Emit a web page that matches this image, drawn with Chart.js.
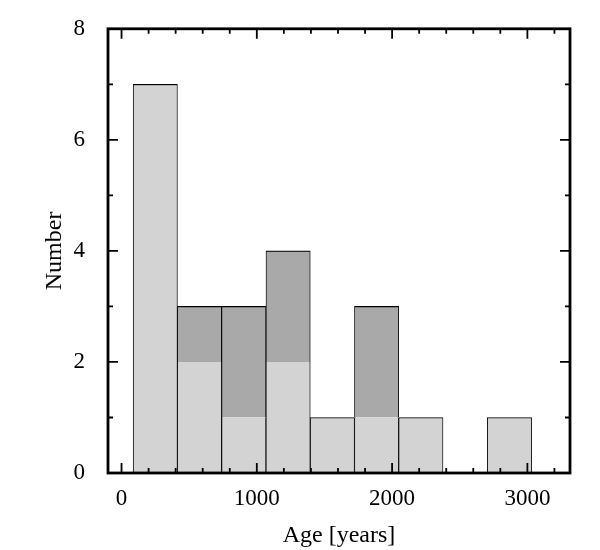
<!DOCTYPE html>
<html lang="en">

<head>
  <meta charset="UTF-8" />
  <title>Age histogram</title>
  <script src="https://cdn.jsdelivr.net/npm/chart.js"></script>
  <style>
    html,
    body {
      margin: 0;
      background: #ffffff;
    }

    canvas {
      display: block;
    }
  </style>
</head>

<body>
  <canvas id="histograma" width="600" height="550"></canvas>

  <script>
    // bin edges in years
    const binEdges = [86, 413, 740, 1068, 1395, 1722, 2049, 2376, 2704, 3031];
    // lower (light) and upper (dark) part of each bin
    const lightCounts = [7, 2, 1, 2, 1, 1, 1, 0, 1];
    const darkCounts = [0, 1, 2, 2, 0, 2, 0, 0, 0];

    const xTickLabels = ['0', '1000', '2000', '3000'];
    const yTickLabels = ['0', '2', '4', '6', '8'];
    const xMinorStep = 200;

    const binCenters = binEdges.slice(0, -1).map((e, i) => (e + binEdges[i + 1]) / 2);

    Chart.defaults.font.family = '"Liberation Serif", "Times New Roman", serif';
    Chart.defaults.font.size = 23;
    Chart.defaults.color = '#000';

    // frame with inward ticks on all four sides
    const moldura = {
      id: 'moldura',
      afterDraw(chart) {
        const { ctx, chartArea: a, scales: { x, y } } = chart;
        ctx.save();
        ctx.strokeStyle = '#000';
        ctx.lineWidth = 1.8;
        x.ticks.forEach(t => {
          const px = x.getPixelForValue(t.value);
          const len = xTickLabels.includes(String(t.value)) ? 10 : 5;
          ctx.beginPath();
          ctx.moveTo(px, a.bottom); ctx.lineTo(px, a.bottom - len);
          ctx.moveTo(px, a.top); ctx.lineTo(px, a.top + len);
          ctx.stroke();
        });
        y.ticks.forEach(t => {
          const py = y.getPixelForValue(t.value);
          const len = yTickLabels.includes(String(t.value)) ? 10 : 5;
          ctx.beginPath();
          ctx.moveTo(a.left, py); ctx.lineTo(a.left + len, py);
          ctx.moveTo(a.right, py); ctx.lineTo(a.right - len, py);
          ctx.stroke();
        });
        ctx.lineWidth = 2.8;
        ctx.strokeRect(a.left, a.top, a.right - a.left, a.bottom - a.top);
        ctx.restore();
      }
    };

    new Chart(document.getElementById('histograma'), {
      type: 'bar',
      data: {
        datasets: [{
          data: binCenters.map((c, i) => ({ x: c, y: lightCounts[i] })),
          backgroundColor: '#d3d3d3',
          borderColor: '#000',
          borderSkipped: false,
          borderWidth: ctx => ({
            left: 0.9, right: 0.9, bottom: 0,
            top: darkCounts[ctx.dataIndex] > 0 ? 0 : 1.2
          }),
          barThickness: 'flex',
          barPercentage: 1,
          categoryPercentage: 1
        }, {
          data: binCenters.map((c, i) => ({ x: c, y: darkCounts[i] })),
          backgroundColor: '#a9a9a9',
          borderColor: '#000',
          borderSkipped: false,
          borderWidth: { left: 0.9, right: 0.9, bottom: 0, top: 1.2 },
          barThickness: 'flex',
          barPercentage: 1,
          categoryPercentage: 1
        }]
      },
      options: {
        responsive: false,
        animation: false,
        layout: { padding: { top: 28, right: 30, left: 0, bottom: 0 } },
        plugins: { legend: { display: false }, tooltip: { enabled: false } },
        scales: {
          x: {
            type: 'linear',
            stacked: true,
            offset: false,
            min: -100,
            max: 3315,
            grid: { display: false },
            border: { display: false },
            afterBuildTicks: s => {
              const ticks = [];
              for (let v = 0; v <= s.max; v += xMinorStep) ticks.push({ value: v });
              s.ticks = ticks;
            },
            ticks: {
              autoSkip: false,
              maxRotation: 0,
              padding: 4,
              callback: v => xTickLabels.includes(String(v)) ? String(v) : ''
            },
            title: { display: true, text: 'Age [years]', font: { size: 24 }, padding: { top: 0, bottom: 0 } },
            afterFit: s => { s.height = 77; }
          },
          y: {
            stacked: true,
            min: 0,
            max: 8,
            grid: { display: false },
            border: { display: false },
            ticks: {
              stepSize: 1,
              autoSkip: false,
              padding: 15,
              callback: v => yTickLabels.includes(String(v)) ? String(v) : ''
            },
            title: { display: true, text: 'Number', font: { size: 24 }, padding: { top: 40, bottom: 0 } },
            afterFit: s => { s.width = 108; }
          }
        }
      },
      plugins: [moldura]
    });
  </script>
</body>

</html>
